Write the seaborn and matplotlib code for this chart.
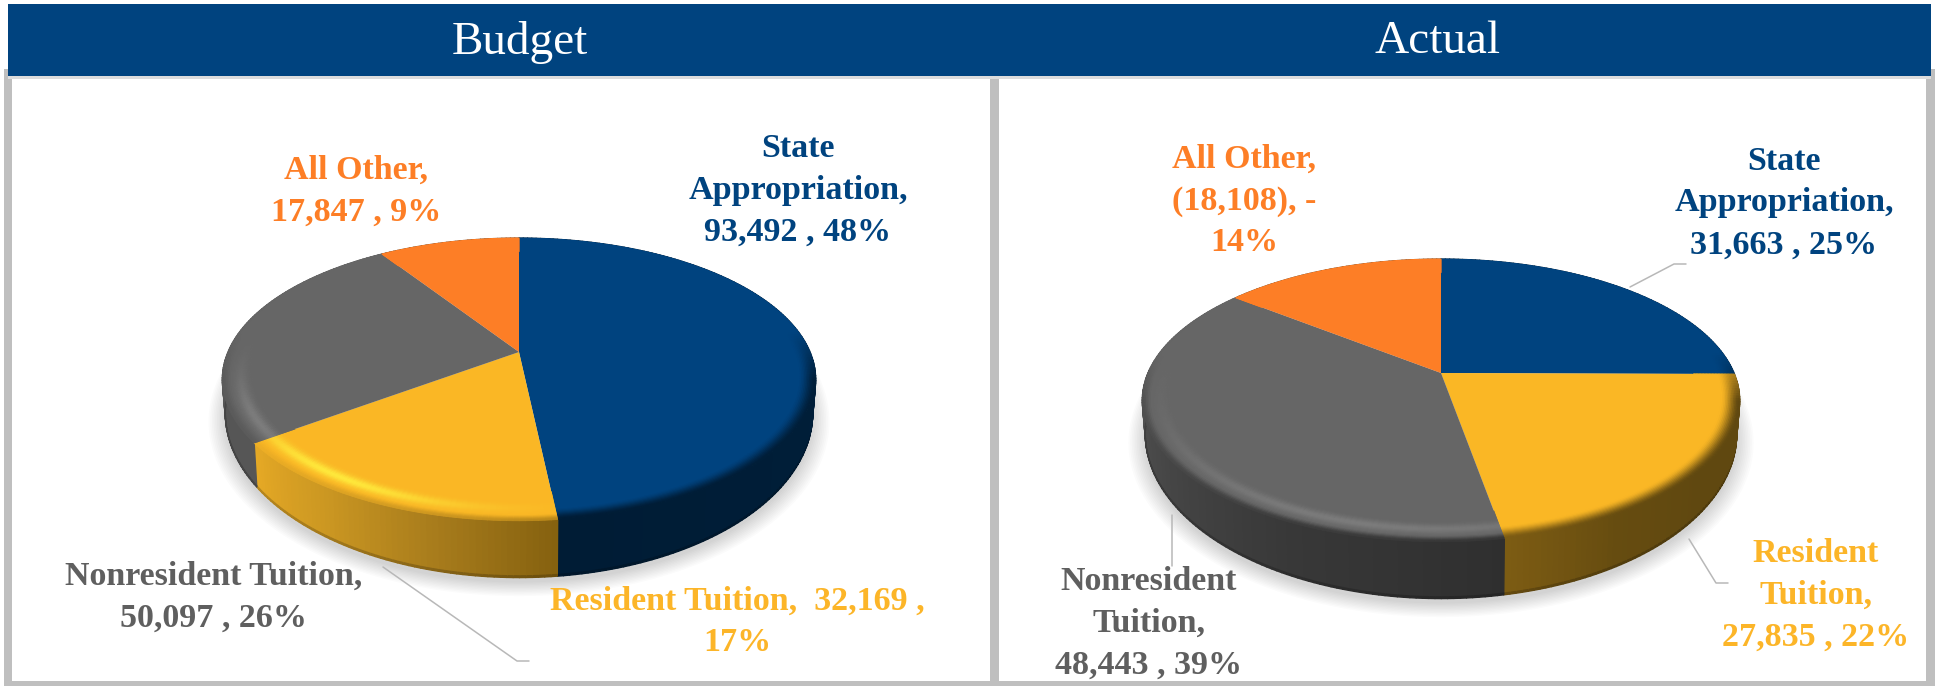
import matplotlib
matplotlib.use("Agg")
import matplotlib.pyplot as plt
import matplotlib.transforms as mtransforms
import numpy as np
import seaborn as sns
from matplotlib.collections import PolyCollection
from matplotlib.colors import to_rgb
from matplotlib.patches import Polygon, Rectangle

sns.set_theme(style="white")
plt.rcParams["font.family"] = ["Liberation Serif", "DejaVu Serif"]

# revenue by source, the negative "All Other" is drawn by its size
categories = ["State Appropriation", "Resident Tuition", "Nonresident Tuition", "All Other"]
budget_values = [93492, 32169, 50097, 17847]
actual_values = [31663, 27835, 48443, -18108]
budget_labels = [
    "State\nAppropriation,\n93,492 , 48%",
    "Resident Tuition,  32,169 ,\n17%",
    "Nonresident Tuition,\n50,097 , 26%",
    "All Other,\n17,847 , 9%",
]
actual_labels = [
    "State\nAppropriation,\n31,663 , 25%",
    "Resident\nTuition,\n27,835 , 22%",
    "Nonresident\nTuition,\n48,443 , 39%",
    "All Other,\n(18,108), -\n14%",
]
panel_titles = ["Budget", "Actual"]

NAVY, GOLD, GREY, ORANGE = sns.color_palette(["#00437f", "#fab725", "#666666", "#fd7e26"])
colors = [NAVY, GOLD, GREY, ORANGE]
text_colors = ["#00437f", "#fcb528", "#5f5f5f", "#fd7e26"]
FRAME = "#bfbfbf"
LEADER = "#b8b8b8"

# side colours run clockwise over a slice, glow = (clock angle, spread, colour)
budget_shading = [
    dict(side=["#00223f", "#001c35"], edge_from=0.945, edge=1.0),
    dict(side=["#85610f", "#a87c1c", "#cb9722", "#e6a925"], edge_from=0.97, edge=0.55,
         glow=(215, 24, "#ffe93c")),
    dict(side=["#565656", "#555555"], edge_from=0.97, edge=0.7, glow=(240, 20, "#7d7d7d")),
    dict(side=["#8a4a1a", "#8a4a1a"], edge_from=0.97, edge=0.0),
]
actual_shading = [
    dict(side=["#00223f", "#00223f"], edge_from=0.945, edge=1.0),
    dict(side=["#5f4710", "#604810", "#604810", "#664c10", "#7d5c13"], edge_from=0.94, edge=1.0),
    dict(side=["#2f2f2f", "#383838", "#474747", "#545454", "#5c5c5c"], edge_from=0.97, edge=0.9,
         glow=(195, 45, "#7c7c7c")),
    dict(side=["#8a4a1a", "#8a4a1a"], edge_from=0.97, edge=0.0),
]


class Tilt(mtransforms.Transform):
    """Perspective view of the unit disc, result in figure pixels."""
    input_dims = 2
    output_dims = 2
    is_separable = False

    def __init__(self, cx, cy, rx, ry, k=0.194):
        super().__init__()
        self.cx, self.cy, self.rx, self.ry, self.k = cx, cy, rx, ry, k

    def transform_non_affine(self, values):
        x, y = np.asarray(values, dtype=float).T
        w = 1 + self.k * y
        return np.column_stack([self.cx + self.rx * x / w, self.cy - self.ry * y / w])


def mix(a, b, s):
    a, b = np.array(to_rgb(a)), np.array(to_rgb(b))
    return tuple(a + (b - a) * s)


def ramp(stops, u):
    rgb = np.array([to_rgb(c) for c in stops])
    pos = np.linspace(0, 1, len(stops))
    return tuple(np.interp(u, pos, rgb[:, i]) for i in range(3))


def disc(angle, radius=1.0):
    rad = np.radians(angle)
    return np.column_stack([radius * np.cos(rad), radius * np.sin(rad)])


def draw_pie(ax, values, shading, cx, top_y, rx, depth_y=29, ry=136):
    top = Tilt(cx, top_y, rx, ry)
    base = Tilt(cx, top_y + depth_y, rx * 0.99, ry * 1.165)

    # soft shadow under the base
    circle = np.linspace(0, 360, 241)
    for s in np.linspace(0.0, 0.055, 11):
        pts = base.transform(disc(circle, 1 + s))
        pts[:, 1] += 5
        ax.add_patch(Polygon(pts, closed=True, fc="black", ec="none", alpha=0.016, zorder=2))

    wedges, _ = ax.pie(np.abs(values), colors=colors, startangle=90, counterclock=False,
                       radius=0.995, frame=True, wedgeprops=dict(linewidth=0, zorder=5))
    for wedge in wedges:
        wedge.set_transform(top + ax.transData)

    side_verts, side_cols, rim_verts, rim_cols = [], [], [], []
    rings = np.linspace(0.86, 1.0, 29)
    for wedge, color, style in zip(wedges, colors, shading):
        steps = max(int((wedge.theta2 - wedge.theta1) / 1.0), 2)
        angles = np.linspace(wedge.theta2, wedge.theta1, steps + 1)
        for i in range(steps):
            a0, a1 = angles[i], angles[i + 1]
            u = (i + 0.5) / steps
            side = ramp(style["side"], u)
            p0, p1 = disc(np.array([a0, a1]))
            t0, t1 = top.transform(np.array([p0, p1]))
            b0, b1 = base.transform(np.array([p0, p1]))
            mid0, mid1 = t0 + (b0 - t0) * 0.97, t1 + (b1 - t1) * 0.97
            side_verts.append([t0, t1, mid1, mid0])
            side_cols.append(side)
            side_verts.append([mid0, mid1, b1, b0])
            side_cols.append(mix(side, "black", 0.2))

            clock = (90 - 0.5 * (a0 + a1)) % 360
            y = np.sin(np.radians(0.5 * (a0 + a1)))
            front = np.clip((0.15 - y) / 0.35, 0, 1)
            for r0, r1 in zip(rings[:-1], rings[1:]):
                r = 0.5 * (r0 + r1)
                c = color
                if "glow" in style:
                    g_at, g_w, g_col = style["glow"]
                    s = np.exp(-((clock - g_at) / g_w) ** 2) * np.exp(-((r - 0.94) / 0.022) ** 2)
                    c = mix(c, g_col, s)
                e = np.clip((r - style["edge_from"]) / (1 - style["edge_from"]), 0, 1)
                e = e * e * (3 - 2 * e) * front * style["edge"]
                c = mix(c, side, e)
                quad = np.vstack([disc(np.array([a0, a1]), r0), disc(np.array([a1, a0]), r1)])
                rim_verts.append(top.transform(quad))
                rim_cols.append(c)

    ax.add_collection(PolyCollection(side_verts, facecolors=side_cols, edgecolors="face",
                                     linewidths=1.0, zorder=3))
    ax.add_collection(PolyCollection(rim_verts, facecolors=rim_cols, edgecolors="face",
                                     linewidths=0.6, zorder=6))
    return wedges


fig = plt.figure(figsize=(19.35, 6.86), dpi=100)
ax = fig.add_axes([0, 0, 1, 1])

draw_pie(ax, budget_values, budget_shading, cx=519, top_y=352, rx=291)
draw_pie(ax, actual_values, actual_shading, cx=1441, top_y=373, rx=293)

ax.set_aspect("auto")
ax.set_xlim(0, 1935)
ax.set_ylim(686, 0)
ax.set_xticks([])
ax.set_yticks([])
sns.despine(ax=ax, left=True, bottom=True)

# panel frame and header bar
for x, y, w, h in [(4, 69, 8, 617), (990, 69, 9, 617), (1926, 69, 9, 617), (4, 681, 1931, 5)]:
    ax.add_patch(Rectangle((x, y), w, h, fc=FRAME, ec="none", zorder=1))
ax.add_patch(Rectangle((8, 76), 1923, 3, fc="#dcdcdc", ec="none", zorder=1))
ax.add_patch(Rectangle((8, 4), 1923, 72, fc=NAVY, ec="none", zorder=8))
for title, x in zip(panel_titles, [520, 1438]):
    ax.text(x, 42, title, color="white", fontsize=34, ha="center", va="center", zorder=9)

# leader lines
leaders = [
    ([383, 517, 529], [567, 661, 661]),
    ([1630, 1674, 1686], [287, 264, 264]),
    ([1689, 1716, 1728], [539, 583, 583]),
    ([1172, 1172], [515, 566]),
]
for xs, ys in leaders:
    ax.plot(xs, ys, color=LEADER, lw=1.1, zorder=7)

budget_pos = [(798, 190), (737, 622), (214, 597), (356, 191)]
actual_pos = [(1784, 203), (1816, 595), (1149, 623), (1244, 201)]
for labels, positions in [(budget_labels, budget_pos), (actual_labels, actual_pos)]:
    for label, (x, y), col in zip(labels, positions, text_colors):
        ax.text(x, y, label, color=col, fontsize=24.5, fontweight="bold", ha="center",
                va="center", linespacing=1.45, zorder=10)

fig.savefig("out.png", dpi=100, facecolor="white")
